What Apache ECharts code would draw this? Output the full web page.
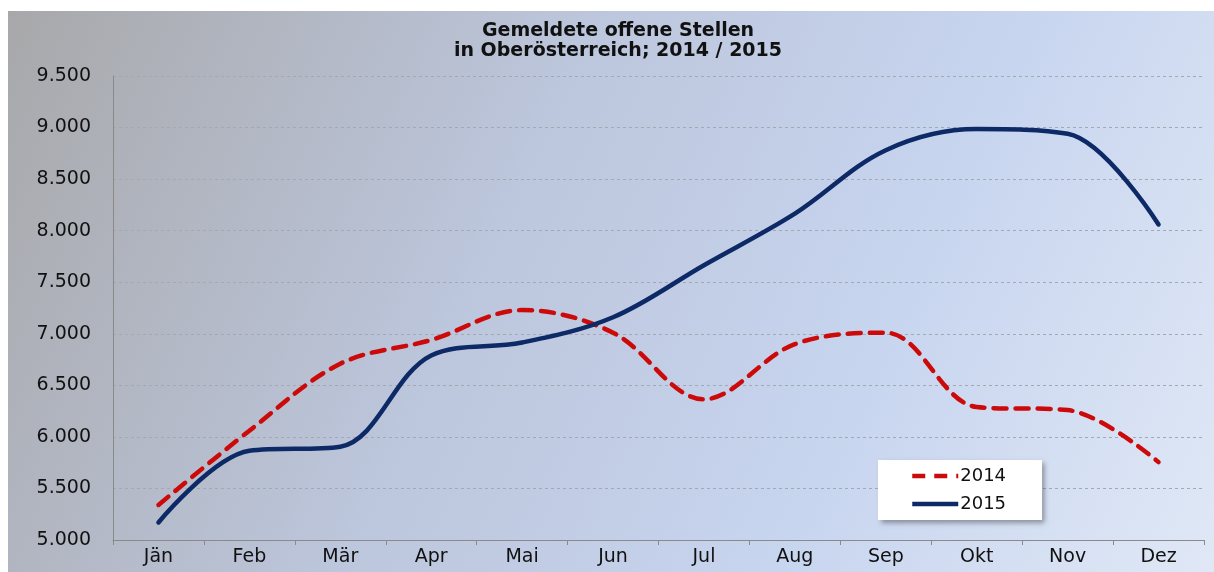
<!DOCTYPE html>
<html>
<head>
<meta charset="utf-8">
<script src="https://cdn.jsdelivr.net/npm/echarts@6/dist/echarts.min.js"></script>
<style>
  html, body { margin: 0; padding: 0; background: #fff; }
  #main { width: 1214px; height: 572px; }
</style>
</head>
<body>
<div id="main"></div>
<script>
var dom = document.getElementById("main");
var myChart = echarts.init(dom);

// Daten
var months = ['Jän', 'Feb', 'Mär', 'Apr', 'Mai', 'Jun', 'Jul', 'Aug', 'Sep', 'Okt', 'Nov', 'Dez'];
var values2014 = [5340, 6060, 6710, 6940, 7230, 7010, 6365, 6900, 7010, 6290, 6260, 5755];
var values2015 = [5170, 5865, 5905, 6790, 6915, 7160, 7665, 8165, 8780, 8985, 8940, 8060];
var yMin = 5000, yMax = 9500, yStep = 500;

function fmt(v) {
    var s = String(Math.round(v));
    return s.replace(/\B(?=(\d{3})+(?!\d))/g, '.');
}

var font = 'DejaVu Sans, Liberation Sans, sans-serif';

var option = {
    animation: false,
    textStyle: { fontFamily: font },
    graphic: [{
        type: 'rect',
        z: -10,
        silent: true,
        shape: { x: 8, y: 11, width: 1206, height: 561 },
        style: {
            fill: new echarts.graphic.LinearGradient(0, 0, 1, 1, [
                { offset: 0, color: '#a8a8aa' },
                { offset: 0.4, color: '#bcc6dc' },
                { offset: 0.7, color: '#c8d5ef' },
                { offset: 1, color: '#e0e8f6' }
            ])
        }
    }],
    title: {
        text: 'Gemeldete offene Stellen\nin Oberösterreich; 2014 / 2015',
        left: 613,
        textAlign: 'center',
        top: 16,
        textStyle: {
            fontFamily: font,
            fontSize: 19,
            fontWeight: 'bold',
            lineHeight: 20,
            color: '#111'
        }
    },
    legend: {
        orient: 'vertical',
        left: 878,
        top: 460,
        padding: [7, 36, 7, 32],
        itemGap: 10,
        itemWidth: 46,
        itemHeight: 20,
        backgroundColor: '#ffffff',
        shadowColor: 'rgba(0,0,0,0.35)',
        shadowBlur: 5,
        shadowOffsetX: 3,
        shadowOffsetY: 3,
        itemStyle: { opacity: 0 },
        lineStyle: { width: 4.5, cap: 'butt' },
        textStyle: { fontFamily: font, fontSize: 18, color: '#111', padding: [0, 0, 0, -3] },
        data: ['2014', '2015']
    },
    grid: { left: 113, right: 10, top: 76, bottom: 32, containLabel: false },
    xAxis: {
        type: 'category',
        data: months,
        boundaryGap: true,
        axisLine: { lineStyle: { color: '#8a8a8a', width: 1 } },
        axisTick: { show: true, length: 5, lineStyle: { color: '#8a8a8a' } },
        axisLabel: { fontFamily: font, fontSize: 19, color: '#111', margin: 8 }
    },
    yAxis: {
        type: 'value',
        min: yMin,
        max: yMax,
        interval: yStep,
        axisLine: { show: true, lineStyle: { color: '#8a8a8a', width: 1 } },
        axisTick: { show: false },
        axisLabel: { fontFamily: font, fontSize: 19, color: '#111', margin: 22, formatter: fmt },
        splitLine: { show: true, lineStyle: { color: '#a4a8b0', type: [3, 3], width: 1 } }
    },
    series: [{
        name: '2014',
        type: 'line',
        data: values2014,
        smooth: 0.35,
        symbol: 'none',
        color: '#cc0a0a',
        lineStyle: { color: '#cc0a0a', width: 4.5, type: [13, 9], cap: 'round' }
    }, {
        name: '2015',
        type: 'line',
        data: values2015,
        smooth: 0.35,
        symbol: 'none',
        color: '#0d2a66',
        lineStyle: { color: '#0d2a66', width: 4.5, cap: 'round' }
    }]
};
myChart.setOption(option);
window.addEventListener("resize", function () {
    myChart.resize();
});
</script>
</body>
</html>
